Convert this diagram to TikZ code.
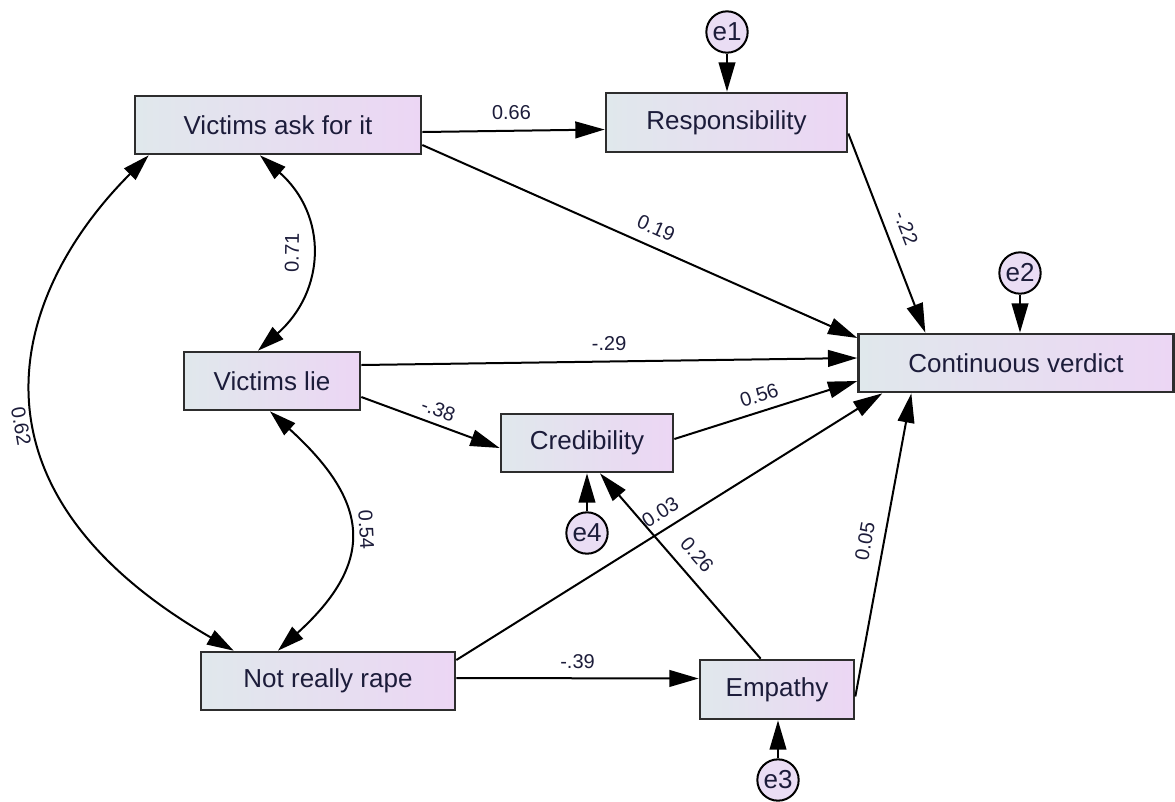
\documentclass[tikz,border=0pt]{standalone}
\usepackage{fontspec}
\setmainfont{Liberation Sans}
\usetikzlibrary{arrows.meta,calc}

\definecolor{boxleft}{RGB}{224,232,236}
\definecolor{boxright}{RGB}{236,214,244}
\definecolor{errfill}{RGB}{234,221,244}
\definecolor{edgegray}{RGB}{45,45,45}
\definecolor{ink}{RGB}{28,28,58}

\tikzset{
  var/.style={draw=edgegray, line width=2pt, left color=boxleft, right color=boxright,
    text=ink, font=\fontsize{19.5}{23}\selectfont, minimum height=43.5pt, inner sep=0pt},
  err/.style={circle, draw=black, line width=1.5pt, fill=errfill, text=ink,
    font=\fontsize{19.5}{23}\selectfont, minimum size=31pt, inner sep=0pt},
  causal/.style={line width=1.5pt, -{Triangle[length=22pt,width=12.5pt]}},
  covar/.style={line width=1.5pt, {Triangle[length=20pt,width=12pt]}-{Triangle[length=20pt,width=12pt]}},
  coef/.style={text=ink, font=\fontsize{15}{18}\selectfont, inner sep=0pt, sloped},
}

\begin{document}
\begin{tikzpicture}[x=0.75pt,y=-0.75pt]
\useasboundingbox (0,0) rectangle (1175,801);

% observed variables
\node[var, minimum width=214.5pt] (vaf) at (278,125) {Victims ask for it};
\node[var, minimum width=180.75pt, minimum height=44.25pt] (resp) at (726.5,122.5) {Responsibility};
\node[var, minimum width=236pt] (cv) at (1016,363) {Continuous verdict};
\node[var, minimum width=132pt] (vl) at (272,381) {Victims lie};
\node[var, minimum width=129pt] (cred) at (587,443) {Credibility};
\node[var, minimum width=190.5pt] (nrr) at (328,681) {Not really rape};
\node[var, minimum width=115.5pt, minimum height=44.25pt] (emp) at (777,689.5) {Empathy};

% error terms
\node[err] (e1) at (727,32) {e1};
\node[err] (e2) at (1020,273) {e2};
\node[err] (e4) at (587,533) {e4};
\node[err] (e3) at (778,780) {e3};

% regression paths
\draw[causal] ([yshift=-5.25pt]vaf.east) -- node[coef, pos=0.49, above=7.5pt]{0.66} ([yshift=-5.25pt]resp.west);
\draw[causal] ([yshift=-15pt]vaf.east) -- node[coef, pos=0.52, above=8pt]{0.19} ([yshift=18.75pt]cv.west);
\draw[causal] ([yshift=-8.25pt]resp.east) -- node[coef, pos=0.51, above=9pt]{-.22} ([xshift=51pt]cv.north west);
\draw[causal] ([yshift=12pt]vl.east) -- node[coef, pos=0.5, above=7.5pt]{-.29} ([yshift=3.75pt]cv.west);
\draw[causal] ([yshift=-12pt]vl.east) -- node[coef, pos=0.52, above=5pt]{-.38} ([yshift=-3.75pt]cred.west);
\draw[causal] ([yshift=3pt]cred.east) -- node[coef, pos=0.49, above=6pt]{0.56} ([yshift=-13.5pt]cv.west);
\draw[causal] ([yshift=15.75pt]nrr.east) -- node[coef, pos=0.5, above=6.75pt]{0.03} ([xshift=18.75pt]cv.south west);
\draw[causal] ([yshift=2.25pt]nrr.east) -- node[coef, pos=0.5, above=6.75pt]{-.39} ([yshift=8.25pt]emp.west);
\draw[causal] ([xshift=46.5pt]emp.north west) -- node[coef, pos=0.49, above=9pt]{0.26} ([xshift=9.75pt]cred.south);
\draw[causal] ([yshift=-5.25pt]emp.east) -- node[coef, pos=0.5, above=8pt]{0.05} ([xshift=40.5pt]cv.south west);

% error paths
\draw[causal] (e1.south) -- (e1.south |- resp.north);
\draw[causal] (e2.south) -- (e2.south |- cv.north);
\draw[causal] (e3.north) -- (e3.north |- emp.south);
\draw[causal] (e4.north) -- (e4.north |- cred.south);

% covariances
\draw[covar] ([xshift=-13.5pt]vaf.south) .. controls +(68,60) and +(68,-60) ..
  node[coef, pos=0.5, above=7.5pt]{0.71} ([xshift=-10.5pt]vl.north);
\draw[covar] ([xshift=-1.5pt]vl.south) .. controls +(99,90) and +(99,-90) ..
  node[coef, pos=0.5, above=7.5pt]{0.54} ([xshift=-37.5pt]nrr.north);
\draw[covar] ([xshift=11.25pt]vaf.south west) .. controls +(-135,135) and +(-285,-164.5) ..
  node[coef, pos=0.56, below=6pt]{0.62} ([xshift=25.5pt]nrr.north west);
\end{tikzpicture}
\end{document}
